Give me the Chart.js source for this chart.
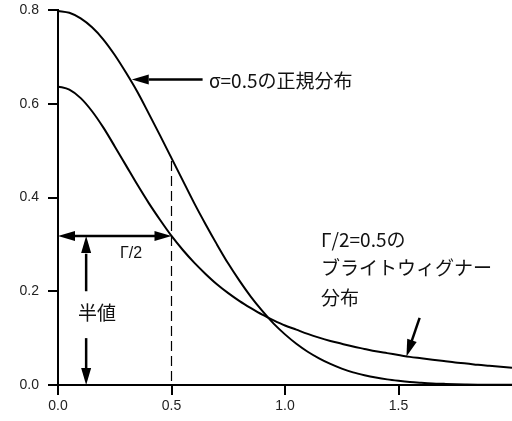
<!DOCTYPE html>
<html>
<head>
<meta charset="utf-8">
<script src="https://cdn.jsdelivr.net/npm/chart.js@4"></script>
<style>
  body { margin: 0; background: #fff; }
  #wrap { width: 512px; height: 421px; }
</style>
</head>
<body>
<div id="wrap"><canvas id="chart" width="512" height="421"></canvas></div>
<script>
// x positions
const xValues = [0, 0.05, 0.1, 0.15, 0.2, 0.25, 0.3, 0.35, 0.4, 0.45, 0.5, 0.55, 0.6, 0.65, 0.7,
  0.75, 0.8, 0.85, 0.9, 0.95, 1.0, 1.05, 1.1, 1.15, 1.2, 1.25, 1.3, 1.35, 1.4, 1.45, 1.5,
  1.55, 1.6, 1.65, 1.7, 1.75, 1.8, 1.85, 1.9, 1.95, 2.0];

// normal distribution, sigma = 0.5
const gaussValues = [0.798, 0.794, 0.782, 0.763, 0.737, 0.704, 0.666, 0.625, 0.579, 0.532, 0.484,
  0.436, 0.388, 0.343, 0.300, 0.259, 0.222, 0.188, 0.158, 0.131, 0.108, 0.088, 0.071, 0.057,
  0.045, 0.035, 0.027, 0.021, 0.016, 0.012, 0.009, 0.0065, 0.0048, 0.0034, 0.0025, 0.0017,
  0.0012, 0.0008, 0.0006, 0.0004, 0.0003];

// Breit-Wigner distribution, Gamma/2 = 0.5
const bwValues = [0.637, 0.630, 0.612, 0.584, 0.549, 0.509, 0.468, 0.427, 0.388, 0.352, 0.318,
  0.288, 0.261, 0.237, 0.215, 0.196, 0.179, 0.164, 0.150, 0.138, 0.127, 0.118, 0.109, 0.101,
  0.094, 0.088, 0.082, 0.077, 0.072, 0.068, 0.064, 0.060, 0.057, 0.054, 0.051, 0.048, 0.046,
  0.043, 0.041, 0.039, 0.037];

const xTicks = [0, 0.5, 1.0, 1.5];
const yTicks = [0, 0.2, 0.4, 0.6, 0.8];

const halfWidthX = 0.5;
const halfHeight = 0.318;

function toPoints(ys) {
  return xValues.map((x, i) => ({ x: x, y: ys[i] }));
}

function arrowHead(ctx, x1, y1, x2, y2, len, half) {
  const a = Math.atan2(y2 - y1, x2 - x1);
  ctx.beginPath();
  ctx.moveTo(x2, y2);
  ctx.lineTo(x2 - len * Math.cos(a) + half * Math.sin(a), y2 - len * Math.sin(a) - half * Math.cos(a));
  ctx.lineTo(x2 - len * Math.cos(a) - half * Math.sin(a), y2 - len * Math.sin(a) + half * Math.cos(a));
  ctx.closePath();
  ctx.fill();
}

function line(ctx, x1, y1, x2, y2) {
  ctx.beginPath();
  ctx.moveTo(x1, y1);
  ctx.lineTo(x2, y2);
  ctx.stroke();
}

// arrows, dashed marker and the Japanese labels
const notes = {
  id: 'notes',
  afterDatasetsDraw(chart) {
    const { ctx, scales: { x, y } } = chart;
    const px = v => x.getPixelForValue(v);
    const py = v => y.getPixelForValue(v);
    ctx.save();
    ctx.strokeStyle = '#000';
    ctx.fillStyle = '#000';

    // dashed line at x = 0.5
    ctx.lineWidth = 1.2;
    ctx.setLineDash([10, 5]);
    line(ctx, px(halfWidthX), py(0.478), px(halfWidthX), py(0));
    ctx.setLineDash([]);

    // arrow to the gaussian
    ctx.lineWidth = 2.5;
    const gy = py(0.652);
    line(ctx, px(0.637), gy, px(0.4), gy);
    arrowHead(ctx, px(0.5), gy, px(0.325), gy, 17, 5);

    // horizontal double arrow (Gamma/2)
    const hy = py(halfHeight);
    line(ctx, px(0.05), hy, px(0.45), hy);
    arrowHead(ctx, px(0.3), hy, px(0), hy, 17, 5);
    arrowHead(ctx, px(0.2), hy, px(halfWidthX), hy, 17, 5);

    // vertical double arrow (half value)
    const vx = px(0.124);
    line(ctx, vx, py(0.28), vx, py(0.2));
    line(ctx, vx, py(0.1), vx, py(0.03));
    arrowHead(ctx, vx, py(0.2), vx, hy, 17, 5);
    arrowHead(ctx, vx, py(0.1), vx, py(0), 17, 5);

    // arrow to the Breit-Wigner curve
    const tx = px(1.593), ty = py(0.143), hx = px(1.535), hyb = py(0.061);
    line(ctx, tx, ty, hx + (tx - hx) * 0.3, hyb + (ty - hyb) * 0.3);
    arrowHead(ctx, tx, ty, hx, hyb, 17, 5);

    ctx.textBaseline = 'middle';
    ctx.fillStyle = '#111';
    ctx.font = '19px "Noto Sans CJK JP"';
    ctx.textAlign = 'left';
    ctx.fillText('σ=0.5の正規分布', 209, gy + 1);
    ctx.fillText('Γ/2=0.5の', 321, 240);
    ctx.fillText('ブライトウィグナー', 321, 268);
    ctx.fillText('分布', 321, 298);
    ctx.textAlign = 'center';
    ctx.fillText('半値', 97, 313);
    ctx.font = '16px "Liberation Sans"';
    ctx.fillText('Γ/2', 131, 254);
    ctx.restore();
  }
};

const ctx = document.getElementById('chart').getContext('2d');
const chart = new Chart(ctx, {
  type: 'line',
  data: {
    datasets: [{
      label: '正規分布',
      data: toPoints(gaussValues),
      borderColor: '#000',
      borderWidth: 2,
      pointRadius: 0,
      cubicInterpolationMode: 'monotone',
      fill: false
    }, {
      label: 'ブライトウィグナー分布',
      data: toPoints(bwValues),
      borderColor: '#000',
      borderWidth: 2,
      pointRadius: 0,
      cubicInterpolationMode: 'monotone',
      fill: false
    }]
  },
  options: {
    responsive: false,
    animation: false,
    devicePixelRatio: 1,
    layout: { padding: { top: 10, right: 0, left: 0, bottom: 0 } },
    plugins: { legend: { display: false }, tooltip: { enabled: false } },
    scales: {
      x: {
        type: 'linear',
        min: 0,
        max: 2,
        afterBuildTicks: s => { s.ticks = xTicks.map(v => ({ value: v })); },
        afterFit: s => { s.height = 36; s.paddingLeft = 0; s.paddingRight = 0; },
        border: { color: '#000', width: 2 },
        grid: { drawOnChartArea: false, color: '#000', lineWidth: 2, tickLength: 10 },
        ticks: {
          color: '#222',
          font: { family: 'Liberation Sans', size: 14 },
          padding: 3,
          maxRotation: 0,
          callback: v => v.toFixed(1)
        }
      },
      y: {
        type: 'linear',
        min: 0,
        max: 0.8,
        afterBuildTicks: s => { s.ticks = yTicks.map(v => ({ value: v })); },
        afterFit: s => { s.width = 58; s.paddingTop = 0; s.paddingBottom = 0; },
        border: { color: '#000', width: 2 },
        grid: { drawOnChartArea: false, color: '#000', lineWidth: 2, tickLength: 10 },
        ticks: {
          color: '#222',
          font: { family: 'Liberation Sans', size: 14 },
          padding: 9,
          callback: v => v.toFixed(1)
        }
      }
    }
  },
  plugins: [notes]
});
</script>
</body>
</html>
